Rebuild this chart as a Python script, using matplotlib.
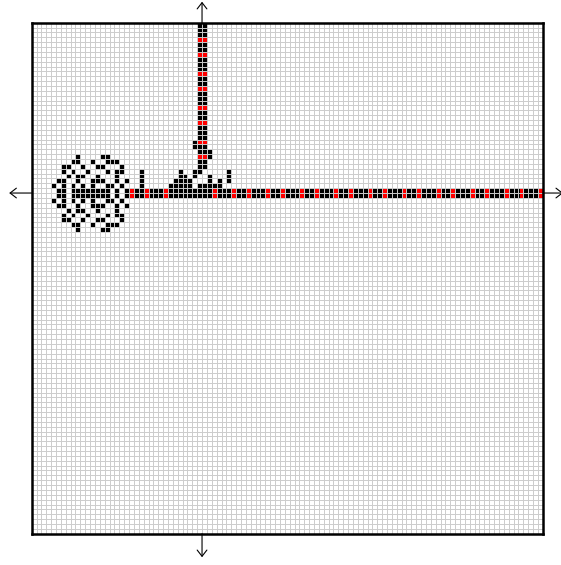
import numpy as np
import matplotlib
matplotlib.use("Agg")
import matplotlib.pyplot as plt
from matplotlib.colors import ListedColormap

# visible window, in cells
x_min, x_max = -35, 70
y_min, y_max = -70, 35

# horizontal trail: rows y=0 and y=-1, from x=-16 to the right edge
h_trail_start = -16
h_trail_red = [-15, -12, -8, 2, 6, 9, 13, 16, 20, 23, 27, 30, 34, 37, 41,
               44, 48, 51, 55, 58, 62, 65, 69]

# vertical trail: columns x=-1 and x=0, from y=5 to the top edge
v_trail_start = 5
v_trail_red = [7, 10, 14, 17, 21, 24, 28, 31]

# loose cells around the junction of the two trails
junction_x = [-2, -2, 1, 1, -2, -1, -2, -13, -13, -13, -13,
              -7, -6, -5, -4, -3, -1, 0, 1, 2, 3,
              -6, -5, -4, -3, 1, 3, 5,
              -5, -4, 1, 5, -5, 5]
junction_y = [10, 9, 8, 7, 4, 4, 3, 1, 2, 3, 4,
              1, 1, 1, 1, 1, 1, 1, 1, 1, 1,
              2, 2, 2, 2, 2, 2, 2,
              3, 3, 3, 3, 4, 4]

# blob on the left, rows y=7 .. 0 (mirrored for y=-1 .. -8), from x=-31
blob_left = -31
blob_rows = [
    ".....X....XX....",
    "....XX..X..XXX..",
    "..XX..X..XX...X.",
    "..X.X..X...X.XX.",
    "...X.XX..X...X..",
    ".XX..X..XXX..X.X",
    "X.X.X.X.X..XX.X.",
    ".XX.XXXXXXXX.X.X",
]

state = np.zeros((y_max - y_min, x_max - x_min), dtype=int)


def put(x, y, v):
    if x_min <= x < x_max and y_min <= y < y_max:
        state[y - y_min, x - x_min] = v


for x in range(h_trail_start, x_max):
    for y in (0, -1):
        put(x, y, 2 if x in h_trail_red else 1)

for y in range(v_trail_start, y_max):
    for x in (-1, 0):
        put(x, y, 2 if y in v_trail_red else 1)

for x, y in zip(junction_x, junction_y):
    put(x, y, 1)

for i, row in enumerate(blob_rows):
    y = 7 - i
    for j, ch in enumerate(row):
        if ch == "X":
            put(blob_left + j, y, 1)
            put(blob_left + j, -1 - y, 1)

fig = plt.figure(figsize=(5.61, 5.65), dpi=100)
ax = fig.add_axes([31.7 / 561, 1 - 533.7 / 565, 511 / 561, 511 / 565])

ax.imshow(state, origin="lower", extent=(x_min, x_max, y_min, y_max),
          cmap=ListedColormap(["white", "black", "red"]), vmin=0, vmax=2,
          interpolation="nearest", aspect="auto", zorder=1)
ax.vlines(np.arange(x_min + 1, x_max), y_min, y_max, colors="#cccccc", lw=0.7, zorder=2)
ax.hlines(np.arange(y_min + 1, y_max), x_min, x_max, colors="#cccccc", lw=0.7, zorder=2)

ax.set_xlim(x_min, x_max)
ax.set_ylim(y_min, y_max)
ax.set_xticks([])
ax.set_yticks([])
for s in ax.spines.values():
    s.set_linewidth(1.8)
    s.set_zorder(3)

arrow = dict(arrowstyle="->, head_length=0.45, head_width=0.35", lw=0.8, color="black",
             shrinkA=0, shrinkB=0)
xt = ax.get_xaxis_transform()
yt = ax.get_yaxis_transform()
ax.annotate("", xy=(0, 1.041), xytext=(0, 1.0), xycoords=xt, arrowprops=arrow, annotation_clip=False)
ax.annotate("", xy=(0, -0.046), xytext=(0, 0.0), xycoords=xt, arrowprops=arrow, annotation_clip=False)
ax.annotate("", xy=(-0.044, 0), xytext=(0.0, 0), xycoords=yt, arrowprops=arrow, annotation_clip=False)
ax.annotate("", xy=(1.040, 0), xytext=(1.0, 0), xycoords=yt, arrowprops=arrow, annotation_clip=False)

fig.savefig("out.png", dpi=100)
